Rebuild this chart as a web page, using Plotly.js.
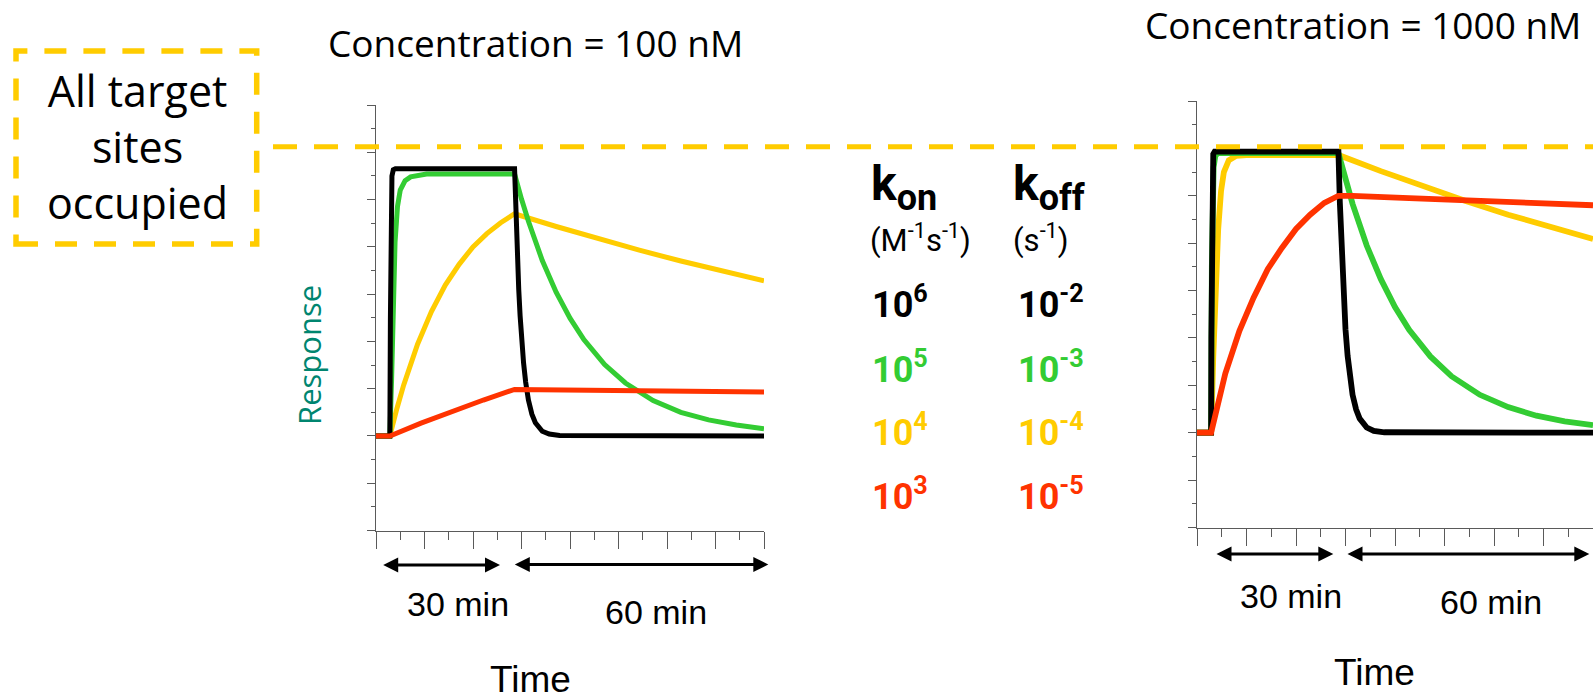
<!DOCTYPE html>
<html>
<head>
<meta charset="utf-8">
<script src="https://cdn.plot.ly/plotly-3.0.1.min.js"></script>
<style>
html,body{margin:0;padding:0;background:#ffffff;}
#chart{width:1593px;height:700px;}
</style>
</head>
<body>
<div id="chart"></div>
<script>
// Time in seconds: injection at 200 s, dissociation from 2000 s (30 min), end at 5600 s (+60 min)
// Response in axis units: baseline = 0, all sites occupied ~ 6

// ---- Concentration = 100 nM ----
const t100Black  = [0,200,208,216,230,250,280,2000,2020,2040,2060,2080,2100,2130,2160,2200,2250,2300,2400,2500,2650,5600];
const r100Black  = [0,0,2.5,5.0,5.5,5.63,5.65,5.65,4.63,3.79,3.10,2.54,2.08,1.54,1.14,0.76,0.46,0.28,0.10,0.04,0.01,0];
const t100Green  = [0,200,225,245,275,310,350,420,500,730,2000,2100,2200,2400,2600,2800,3000,3300,3600,4000,4400,4800,5200,5600];
const r100Green  = [0,0,1.2,2.6,4.1,4.85,5.2,5.4,5.48,5.54,5.54,5.01,4.54,3.71,3.04,2.49,2.04,1.51,1.12,0.75,0.50,0.34,0.23,0.15];
const t100Yellow = [0,200,300,400,600,800,1000,1200,1400,1600,1800,2000,2600,3200,3800,4400,5000,5600];
const r100Yellow = [0,0,0.57,1.08,1.94,2.63,3.19,3.63,4.00,4.28,4.51,4.70,4.43,4.17,3.93,3.70,3.48,3.28];
const t100Red    = [0,200,650,1100,1550,2000,2500,3500,4500,5600];
const r100Red    = [0,0,0.27,0.52,0.76,0.985,0.98,0.965,0.95,0.93];

// ---- Concentration = 1000 nM ----
const t1000Black  = [0,200,203,207,215,230,250,2000,2020,2040,2060,2080,2100,2130,2160,2200,2250,2300,2400,2500,2650,5600];
const r1000Black  = [0,0,2.0,4.0,5.5,5.88,5.93,5.93,4.86,3.97,3.25,2.66,2.18,1.62,1.20,0.80,0.49,0.30,0.11,0.04,0.01,0];
const t1000Green  = [0,200,210,220,235,260,300,2000,2100,2200,2400,2600,2800,3000,3300,3600,4000,4400,4800,5200,5600];
const r1000Green  = [0,0,3.5,4.9,5.6,5.85,5.9,5.9,5.34,4.83,3.95,3.24,2.65,2.17,1.61,1.19,0.80,0.54,0.36,0.24,0.16];
const t1000Yellow = [0,200,230,260,300,340,380,450,550,700,2000,2600,3200,3800,4400,5000,5600];
const r1000Yellow = [0,0,1.6,3.0,4.3,5.1,5.5,5.75,5.84,5.86,5.86,5.52,5.20,4.89,4.60,4.34,4.09];
const t1000Red    = [0,200,400,600,800,1000,1200,1400,1600,1800,2000,2200,3000,4000,5000,5600];
const r1000Red    = [0,0,1.25,2.15,2.85,3.45,3.9,4.3,4.6,4.85,5.0,5.0,4.95,4.9,4.84,4.8];

// ---- rate constant labels (exponents) ----
const konExponents  = [6, 5, 4, 3];
const koffExponents = [-2, -3, -4, -5];
const concentrations = [100, 1000];
const phaseLabels = ['30 min', '60 min'];
const saturationLabel = ['All target', 'sites', 'occupied'];

const seriesColors = ['#000000', '#33cc33', '#ffcc00', '#ff3300'];
const YELLOW = '#ffcc00';
const AXC = '#5a5a5a';
const W = 1593, H = 700;
const px = v => v / W;
const py = v => 1 - v / H;

function tr(x, y, color, xa, ya, width) {
  return {x: x, y: y, type: 'scatter', mode: 'lines', xaxis: xa, yaxis: ya,
          line: {color: color, width: width, shape: 'linear'}, hoverinfo: 'skip', showlegend: false};
}

const LW1 = 5, LW2 = 5.8;
const traces = [
  // drawing order: yellow, green, black, red
  tr(t100Yellow, r100Yellow, seriesColors[2], 'x', 'y', LW1),
  tr(t100Green,  r100Green,  seriesColors[1], 'x', 'y', LW1),
  tr(t100Black,  r100Black,  seriesColors[0], 'x', 'y', LW1),
  tr(t100Red,    r100Red,    seriesColors[3], 'x', 'y', LW1),
  tr(t1000Yellow, r1000Yellow, seriesColors[2], 'x2', 'y2', LW2),
  tr(t1000Green,  r1000Green,  seriesColors[1], 'x2', 'y2', LW2),
  tr(t1000Black,  r1000Black,  seriesColors[0], 'x2', 'y2', LW2),
  tr(t1000Red,    r1000Red,    seriesColors[3], 'x2', 'y2', LW2)
];

function xax(domain, anchor) {
  return {domain: domain, anchor: anchor, range: [0, 5600], tick0: 0, dtick: 700,
          showline: true, linecolor: AXC, linewidth: 1, ticks: 'outside', ticklen: 17,
          tickwidth: 1, tickcolor: AXC, showticklabels: false, showgrid: false, zeroline: false,
          fixedrange: true,
          minor: {ticks: 'outside', ticklen: 8, tickwidth: 1, tickcolor: AXC, dtick: 350, tick0: 0, showgrid: false}};
}
function xin(over, anchor) {
  return {overlaying: over, anchor: anchor, range: [0, 5600], tick0: 0, dtick: 700,
          showline: false, ticks: 'inside', ticklen: 6, tickwidth: 1, tickcolor: AXC,
          showticklabels: false, showgrid: false, zeroline: false, fixedrange: true};
}
function yax(domain, anchor) {
  return {domain: domain, anchor: anchor, range: [-2, 7], tick0: 0, dtick: 1,
          showline: true, linecolor: AXC, linewidth: 1, ticks: 'outside', ticklen: 8,
          tickwidth: 1, tickcolor: AXC, showticklabels: false, showgrid: false, zeroline: false,
          fixedrange: true,
          minor: {ticks: 'outside', ticklen: 4, tickwidth: 1, tickcolor: AXC, dtick: 0.5, tick0: 0, showgrid: false}};
}

const ann = [];
function txt(text, x, y, size, family, color, extra) {
  ann.push(Object.assign({text: text, xref: 'paper', yref: 'paper', x: px(x), y: py(y),
    xanchor: 'center', yanchor: 'middle', showarrow: false, borderpad: 0, borderwidth: 0,
    font: {family: family, size: size, color: color}}, extra || {}));
}
function arrow(x0, x1, y) {
  ann.push({text: '', xref: 'paper', yref: 'paper', x: px(x1), y: py(y),
    axref: 'pixel', ayref: 'pixel', ax: -(x1 - x0), ay: 0, showarrow: true,
    arrowhead: 2, startarrowhead: 2, arrowside: 'end+start', arrowwidth: 3,
    arrowsize: 1, startarrowsize: 1, arrowcolor: '#000000', standoff: 0, startstandoff: 0,
    font: {size: 2}});
}

// titles
txt('Concentration = ' + concentrations[0] + ' nM', 535, 43, 37, 'Open Sans', '#000');
txt('Concentration = ' + concentrations[1] + ' nM', 1363, 25, 37, 'Open Sans', '#000');
// saturation box label
txt(saturationLabel.join('<br>'), 137, 146, 43, 'Open Sans', '#000');
// y label
txt('Response', 309, 355, 31, 'Open Sans', '#00856f', {textangle: -90});
// rate constant headers
const HF = 'Roboto';
txt('<b>k<sub><span style="font-size:36px">on</span></sub></b>', 871, 155, 48, HF, '#000', {xanchor: 'left', yanchor: 'top'});
txt('<b>k<sub><span style="font-size:36px">off</span></sub></b>', 1013, 155, 48, HF, '#000', {xanchor: 'left', yanchor: 'top'});
txt('(M<sup>-1</sup>s<sup>-1</sup>)', 870, 259, 31, HF, '#000', {xanchor: 'left', yanchor: 'bottom'});
txt('(s<sup>-1</sup>)', 1013, 259, 31, HF, '#000', {xanchor: 'left', yanchor: 'bottom'});
const rowBase = [317, 382, 445.5, 509];
konExponents.forEach((e, i) => {
  txt('<b>10<sup>' + e + '</sup></b>', 871.5, rowBase[i] + 8.5, 36, HF, seriesColors[i], {xanchor: 'left', yanchor: 'bottom'});
  txt('<b>10<sup>' + koffExponents[i] + '</sup></b>', 1018, rowBase[i] + 8.5, 36, HF, seriesColors[i], {xanchor: 'left', yanchor: 'bottom'});
});
// phase labels & arrows
const LF = 'Liberation Sans';
txt(phaseLabels[0], 457.5, 604, 34, LF, '#000');
txt(phaseLabels[1], 655.8, 611.5, 34, LF, '#000');
txt('Time', 530.8, 679, 37, LF, '#000');
txt(phaseLabels[0], 1291, 595.5, 34, LF, '#000');
txt(phaseLabels[1], 1490.8, 602, 34, LF, '#000');
txt('Time', 1374, 672, 37, LF, '#000');
arrow(381.7, 500, 565);
arrow(513.3, 768.3, 564.5);
arrow(1215, 1333.3, 554);
arrow(1346, 1589.3, 554);

const shapes = [
  {type: 'line', xref: 'paper', yref: 'paper', x0: px(273), x1: 1, y0: py(146.7), y1: py(146.7),
   line: {color: YELLOW, width: 5, dash: '24px,17px'}},
  {type: 'rect', xref: 'paper', yref: 'paper', x0: px(16), x1: px(256.7), y0: py(244), y1: py(51),
   line: {color: YELLOW, width: 5.5, dash: '22px,17px'}, fillcolor: 'rgba(0,0,0,0)'}
];

const layout = {
  width: W, height: H, margin: {l: 0, r: 0, t: 0, b: 0, pad: 0},
  paper_bgcolor: '#ffffff', plot_bgcolor: 'rgba(0,0,0,0)', showlegend: false,
  xaxis: xax([px(376), px(764)], 'y'),
  yaxis: yax([py(530.5), py(105)], 'x'),
  xaxis2: xax([px(1197), 1], 'y2'),
  yaxis2: yax([py(527.5), py(101)], 'x2'),
  xaxis3: xin('x', 'y'),
  xaxis4: xin('x2', 'y2'),
  annotations: ann,
  shapes: shapes
};

Plotly.newPlot('chart', traces, layout, {staticPlot: true, displayModeBar: false, responsive: false});
</script>
</body>
</html>
